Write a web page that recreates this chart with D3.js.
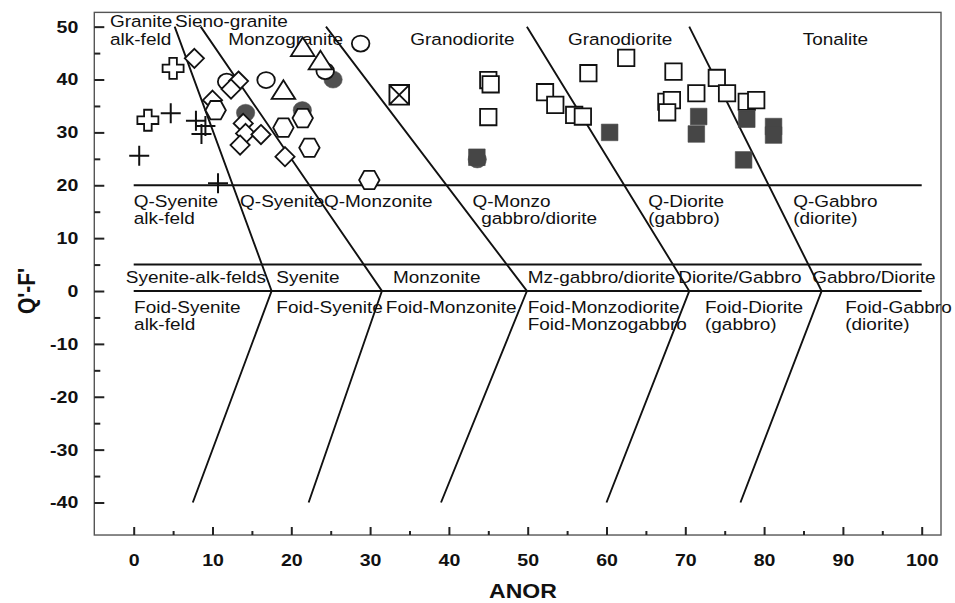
<!DOCTYPE html>
<html><head><meta charset="utf-8">
<script src="https://cdn.jsdelivr.net/npm/d3@7"></script>
<style>
body{margin:0;background:#fff}
svg{display:block}
text{font-family:"Liberation Sans",Arial,Helvetica,sans-serif;fill:#111}
</style>
</head><body>
<svg id="chart" width="955" height="603"></svg>
<script>
// ---- axis ticks ----
const xTickValues = [0,10,20,30,40,50,60,70,80,90,100];
const xMinorTicks = [5,15,25,35,45,55,65,75,85,95];
const yTickValues = [-40,-30,-20,-10,0,10,20,30,40,50];
const yMinorTicks = [-35,-25,-15,-5,5,15,25,35,45];

// ---- field boundaries (ANOR, Q'-F') ----
const fieldBoundaries = [
  [[5.2,50],[17.5,0],[7.5,-40]],
  [[8.5,50],[31.5,0],[22.2,-40]],
  [[24.4,50],[49.9,0],[39.0,-40]],
  [[49.9,50],[70.5,0],[60.0,-40]],
  [[70.5,50],[87.3,0],[77.0,-40]]
];
const horizontalLevels = [20, 5, 0];

// ---- field names: text, ANOR, Q'-F' of baseline start ----
const fieldLabels = [
  ["Granite",-3.0,50.0],["alk-feld",-3.0,46.5],["Sieno-granite",5.25,50.0],
  ["Monzogranite",12.0,46.5],["Granodiorite",35.1,46.5],["Granodiorite",55.1,46.5],
  ["Tonalite",84.9,46.5],
  ["Q-Syenite",0.0,15.8],["alk-feld",0.0,12.6],["Q-Syenite",13.5,15.8],
  ["Q-Monzonite",24.15,15.8],["Q-Monzo",43.0,15.8],["gabbro/diorite",44.1,12.6],
  ["Q-Diorite",65.3,15.8],["(gabbro)",65.3,12.6],["Q-Gabbro",83.7,15.8],["(diorite)",83.7,12.6],
  ["Syenite-alk-felds",-1.0,1.45],["Syenite",18.1,1.45],["Monzonite",32.9,1.45],
  ["Mz-gabbro/diorite",50.0,1.45],["Diorite/Gabbro",69.1,1.45],["Gabbro/Diorite",86.1,1.45],
  ["Foid-Syenite",0.05,-4.1],["alk-feld",0.05,-7.45],["Foid-Syenite",18.1,-4.1],
  ["Foid-Monzonite",32.0,-4.1],["Foid-Monzodiorite",50.0,-4.1],["Foid-Monzogabbro",50.0,-7.45],
  ["Foid-Diorite",72.5,-4.1],["(gabbro)",72.5,-7.45],["Foid-Gabbro",90.3,-4.1],["(diorite)",90.3,-7.45]
];

// ---- samples [ANOR, Q'-F'] ----
const plusSamples = [[0.7,25.6],[4.7,33.6],[7.9,32.2],[9.1,31.2],[8.6,29.7],[10.7,20.4]];
const openCrossSamples = [[5.0,42.1],[1.8,32.3]];
const filledCircleSamples = [[14.2,33.7],[25.3,40.0],[21.4,34.2],[43.6,24.9]];
const openCircleSamples = [[11.8,39.6],[16.8,39.9],[24.3,41.6],[28.8,46.8]];
const triangleSamples = [[21.45,45.9],[23.7,43.4],[19.0,37.8]];
const diamondSamples = [[7.7,44.0],[13.3,39.7],[12.35,38.2],[10.0,36.1],[13.9,31.7],
  [14.2,29.8],[16.15,29.6],[13.5,27.6],[19.2,25.4]];
const hexagonSamples = [[10.4,34.2],[21.45,32.7],[19.0,30.9],[22.3,27.1],[29.9,21.0]];
const crossedSquareSamples = [[33.7,37.1]];
const openSquareSamples = [[45.0,39.9],[45.3,39.1],[45.0,32.9],[52.2,37.6],[53.5,35.2],
  [55.9,33.3],[57.0,33.0],[57.7,41.2],[62.5,44.1],[68.5,41.5],[67.6,35.8],[68.3,36.1],
  [67.7,33.8],[71.4,37.4],[74.0,40.3],[75.3,37.4],[77.8,35.8],[79.0,36.1]];
const filledSquareSamples = [[43.55,25.3],[60.4,30.0],[71.7,33.0],[71.4,29.7],[77.8,32.5],
  [77.4,24.8],[81.2,31.1],[81.2,29.5]];

const svg = d3.select("#chart");
const x = d3.scaleLinear().domain([0,100]).range([133.7,921.7]);
const y = d3.scaleLinear().domain([-40,50]).range([502.5,26.65]);
const xLo = -5.0, xHi = 102.45, yLo = -46.15, yHi = 52.7;
const TEXT_STRETCH = 1.15;
const plainNumber = d => String(d);   // hyphen-minus, as printed on the axes

// frame
svg.append("rect")
  .attr("x", x(xLo)).attr("y", y(yHi))
  .attr("width", x(xHi)-x(xLo)).attr("height", y(yLo)-y(yHi))
  .attr("fill","none").attr("stroke","#555").attr("stroke-width",1.4);

// axes (ticks pointing inward)
function styleAxis(g){
  g.select(".domain").remove();
  g.selectAll(".tick line").attr("stroke","#222").attr("stroke-width",2);
  g.selectAll(".tick text").attr("fill","#111").style("font-weight","bold")
    .style("font-size","17px").style("font-family",'"Liberation Sans",Arial,sans-serif');
}
const gx = svg.append("g").attr("transform",`translate(0,${y(yLo)})`)
  .call(d3.axisBottom(x).tickValues(xTickValues).tickFormat(plainNumber)
    .tickSizeInner(-8).tickSizeOuter(0).tickPadding(19));
styleAxis(gx);
gx.selectAll(".tick text").attr("transform", `scale(${TEXT_STRETCH},1)`);
svg.append("g").attr("transform",`translate(0,${y(yLo)})`)
  .call(d3.axisBottom(x).tickValues(xMinorTicks).tickFormat("").tickSizeInner(-4).tickSizeOuter(0))
  .call(styleAxis);

const gy = svg.append("g").attr("transform",`translate(${x(xLo)},0)`)
  .call(d3.axisLeft(y).tickValues(yTickValues).tickFormat(plainNumber)
    .tickSizeInner(-10).tickSizeOuter(0).tickPadding(16));
styleAxis(gy);
gy.selectAll(".tick text").attr("transform", `scale(${TEXT_STRETCH},1)`)
  .attr("x", -16/TEXT_STRETCH);
svg.append("g").attr("transform",`translate(${x(xLo)},0)`)
  .call(d3.axisLeft(y).tickValues(yMinorTicks).tickFormat("").tickSizeInner(-6).tickSizeOuter(0))
  .call(styleAxis);

// axis titles
svg.append("text").text("ANOR")
  .attr("transform", `translate(${x(49.4)},598) scale(${TEXT_STRETCH},1)`)
  .attr("text-anchor","middle").style("font-weight","bold").style("font-size","20px");
svg.append("text").text("Q'-F'")
  .attr("transform", `translate(35,${y(0)}) scale(${TEXT_STRETCH},1) rotate(-90)`)
  .attr("text-anchor","middle").style("font-weight","bold").style("font-size","21px");

// horizontal field limits
svg.append("g").selectAll("line").data(horizontalLevels).join("line")
  .attr("x1", x(0)).attr("x2", x(100))
  .attr("y1", d => y(d)).attr("y2", d => y(d))
  .attr("stroke","#111").attr("stroke-width",2);

// oblique field limits
const lineGen = d3.line().x(d => x(d[0])).y(d => y(d[1]));
svg.append("g").selectAll("path").data(fieldBoundaries).join("path")
  .attr("d", lineGen).attr("fill","none").attr("stroke","#111").attr("stroke-width",1.9);

// field names
svg.append("g").selectAll("text").data(fieldLabels).join("text")
  .attr("transform", d => `translate(${x(d[1])},${y(d[2])}) scale(${TEXT_STRETCH},1)`)
  .style("font-size","16.5px")
  .text(d => d[0]);

// ---- marker shapes (size = half-width in px) ----
const hexagonType = {draw(c, r){
  const h = r*0.9, e = r*0.5;
  c.moveTo(r,0); c.lineTo(e,h); c.lineTo(-e,h); c.lineTo(-r,0); c.lineTo(-e,-h); c.lineTo(e,-h); c.closePath();
}};
const diamondType = {draw(c, r){
  c.moveTo(0,-r); c.lineTo(r,0); c.lineTo(0,r); c.lineTo(-r,0); c.closePath();
}};
const triangleType = {draw(c, r){
  c.moveTo(0,-r*0.92); c.lineTo(r,r*0.66); c.lineTo(-r,r*0.66); c.closePath();
}};
const squareType = {draw(c, r){ c.rect(-r,-r,2*r,2*r); }};
const crossedSquareType = {draw(c, r){
  c.rect(-r,-r,2*r,2*r); c.moveTo(-r,-r); c.lineTo(r,r); c.moveTo(r,-r); c.lineTo(-r,r);
}};
const openCrossType = {draw(c, r){
  const a = r*0.36;
  c.moveTo(-a,-r); c.lineTo(a,-r); c.lineTo(a,-a); c.lineTo(r,-a); c.lineTo(r,a); c.lineTo(a,a);
  c.lineTo(a,r); c.lineTo(-a,r); c.lineTo(-a,a); c.lineTo(-r,a); c.lineTo(-r,-a); c.lineTo(-a,-a); c.closePath();
}};
const plusType = {draw(c, r){ c.moveTo(-r,0); c.lineTo(r,0); c.moveTo(0,-r); c.lineTo(0,r); }};

function drawSymbols(data, type, r, fill, stroke, sw){
  svg.append("g").selectAll("path").data(data).join("path")
    .attr("transform", d => `translate(${x(d[0])},${y(d[1])})`)
    .attr("d", d3.symbol().type(type).size(r))
    .attr("fill", fill).attr("stroke", stroke).attr("stroke-width", sw)
    .attr("stroke-linejoin","miter");
}
function drawEllipses(data, rx, ry, fill, stroke, sw){
  svg.append("g").selectAll("ellipse").data(data).join("ellipse")
    .attr("cx", d => x(d[0])).attr("cy", d => y(d[1]))
    .attr("rx", rx).attr("ry", ry)
    .attr("fill", fill).attr("stroke", stroke).attr("stroke-width", sw);
}

drawEllipses(filledCircleSamples, 9.2, 8.6, "#505050", "#505050", 0.5);
drawEllipses(openCircleSamples, 8.8, 8.0, "#fff", "#111", 1.8);
drawSymbols(triangleSamples, triangleType, 11.8, "#fff", "#111", 1.8);
drawSymbols(diamondSamples, diamondType, 9.6, "#fff", "#111", 1.8);
drawSymbols(hexagonSamples, hexagonType, 10.2, "#fff", "#111", 1.8);
drawSymbols(plusSamples, plusType, 10, "none", "#111", 2);
drawSymbols(openCrossSamples, openCrossType, 10.5, "#fff", "#111", 1.8);
drawSymbols(crossedSquareSamples, crossedSquareType, 9.8, "#fff", "#111", 1.9);
drawSymbols(openSquareSamples, squareType, 8.2, "#fff", "#111", 1.8);
drawSymbols(filledSquareSamples, squareType, 8.3, "#464646", "#464646", 0.6);
</script>
</body></html>
